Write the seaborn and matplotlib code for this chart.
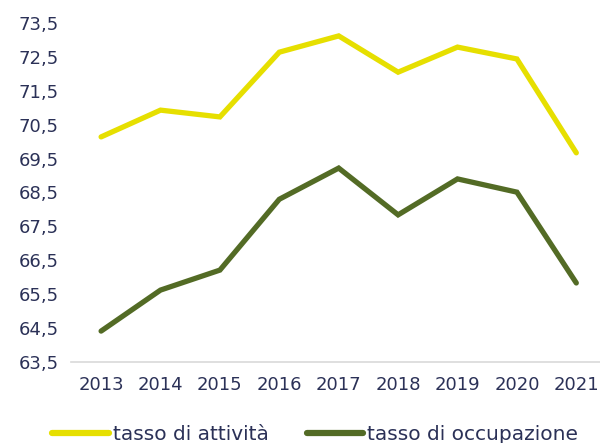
import pandas as pd
import numpy as np
import matplotlib.pyplot as plt
import seaborn as sns

anni = ["2013", "2014", "2015", "2016", "2017", "2018", "2019", "2020", "2021"]
attivita = [70.14, 70.93, 70.73, 72.64, 73.12, 72.05, 72.79, 72.44, 69.67]
occupazione = [64.41, 65.62, 66.21, 68.30, 69.22, 67.84, 68.90, 68.51, 65.83]
serie = ["tasso di attività", "tasso di occupazione"]
colori = ["#e6df00", "#536b25"]
y_ticks = [63.5, 64.5, 65.5, 66.5, 67.5, 68.5, 69.5, 70.5, 71.5, 72.5, 73.5]

df = pd.DataFrame({
    "anno": anni * 2,
    "valore": attivita + occupazione,
    "serie": [serie[0]] * len(anni) + [serie[1]] * len(anni),
})

sns.set_style("white")
plt.rcParams["font.family"] = ["DejaVu Sans"]
testo = "#2b3157"

fig = plt.figure(figsize=(6, 4.43), dpi=100)
ax = fig.add_axes([0.119, 0.183, 0.891, 0.765])

sns.lineplot(data=df, x="anno", y="valore", hue="serie", palette=colori,
             linewidth=3.8, ax=ax, sort=False)
for l in ax.lines:
    l.set_solid_capstyle("round")
    l.set_solid_joinstyle("miter")

ax.set_xlim(-0.5, len(anni) - 0.5)
ax.set_ylim(63.5, 73.5)
ax.set_yticks(y_ticks)
ax.set_yticklabels([f"{v:.1f}".replace(".", ",") for v in y_ticks])
ax.tick_params(axis="both", length=0, labelsize=13, colors=testo)
ax.tick_params(axis="y", pad=9)
ax.tick_params(axis="x", pad=10)
ax.set_xlabel("")
ax.set_ylabel("")

for s in ["top", "right", "left"]:
    ax.spines[s].set_visible(False)
ax.spines["bottom"].set_color("#d9d9d9")
ax.spines["bottom"].set_linewidth(1.2)

leg = ax.legend(loc="upper left", bbox_to_anchor=(-0.036, -0.187), ncol=2,
                frameon=False, fontsize=14.5, handlelength=2.8, handletextpad=0.2,
                columnspacing=1.9, labelcolor=testo, borderaxespad=0, borderpad=0)
for h in leg.get_lines():
    h.set_linewidth(4.5)
    h.set_solid_capstyle("round")

fig.savefig("out.png", dpi=100, facecolor="white")
